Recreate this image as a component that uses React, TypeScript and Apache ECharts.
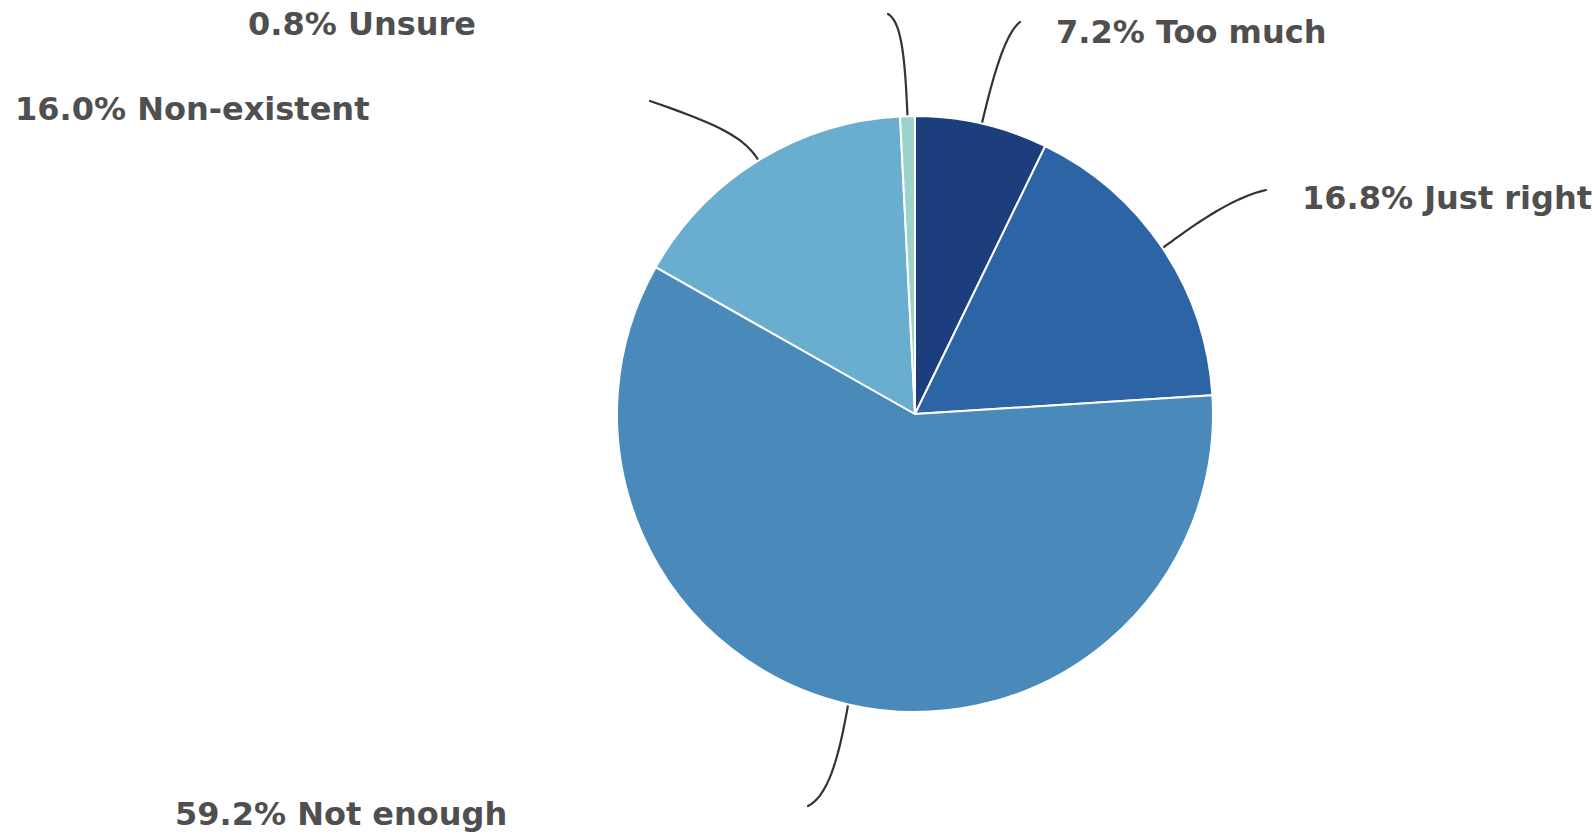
import React, { useEffect, useRef } from "react";
import * as echarts from "echarts";

const categories = ["Too much", "Just right", "Not enough", "Non-existent", "Unsure"];
const values = [7.2, 16.8, 59.2, 16.0, 0.8];
const colors = ["#1c3e7c", "#2d64a6", "#4a8aba", "#6aaecf", "#9cd3cd"];

// label anchor + leader line layout (pixel positions: cubic control points & end of curve)
const labelPos = [
  { x: 1056, y: 32, align: "left", c1: [990, 90], c2: [1003, 35], end: [1020, 22] },
  { x: 1302, y: 198, align: "left", c1: [1190, 228], c2: [1230, 198], end: [1266, 190] },
  { x: 175, y: 814, align: "left", c1: [840, 750], c2: [830, 795], end: [808, 806] },
  { x: 15, y: 109, align: "left", c1: [745, 138], c2: [720, 125], end: [650, 101] },
  { x: 476, y: 24, align: "right", c1: [905, 60], c2: [902, 22], end: [888, 14] },
];

function curve(p0: number[], p1: number[], p2: number[], p3: number[]) {
  const pts: number[][] = [];
  const n = 20;
  for (let i = 0; i <= n; i++) {
    const t = i / n;
    const u = 1 - t;
    const a = u * u * u;
    const b = 3 * u * u * t;
    const c = 3 * u * t * t;
    const d = t * t * t;
    pts.push([
      a * p0[0] + b * p1[0] + c * p2[0] + d * p3[0],
      a * p0[1] + b * p1[1] + c * p2[1] + d * p3[1],
    ]);
  }
  return pts;
}

export default function App() {
  const ref = useRef<HTMLDivElement>(null);
  useEffect(() => {
    if (!ref.current) return;
    const chart = echarts.init(ref.current, null, { renderer: "svg" });
    chart.setOption({
      animation: false,
      backgroundColor: "#ffffff",
      series: [
        {
          type: "pie",
          center: [915, 414],
          radius: 298,
          startAngle: 90,
          clockwise: true,
          data: categories.map((name, i) => ({
            name,
            value: values[i],
            itemStyle: { color: colors[i] },
          })),
          itemStyle: { borderColor: "#ffffff", borderWidth: 2 },
          label: {
            show: true,
            formatter: (p: any) => `${Number(p.value).toFixed(1)}% ${p.name}`,
            fontFamily: "DejaVu Sans",
            fontWeight: "bold",
            fontSize: 32,
            color: "#4f4f4f",
          },
          labelLine: {
            show: true,
            smooth: false,
            lineStyle: { color: "#333333", width: 2.2, cap: "round", join: "round" },
          },
          labelLayout: (params: any) => {
            const lp = labelPos[params.dataIndex];
            const start =
              params.labelLinePoints && params.labelLinePoints[0]
                ? params.labelLinePoints[0]
                : [915, 414];
            return {
              x: lp.x,
              y: lp.y,
              align: lp.align,
              verticalAlign: "middle",
              labelLinePoints: curve(start, lp.c1, lp.c2, lp.end),
            };
          },
        },
      ],
    });
    return () => chart.dispose();
  }, []);
  return (
    <div
      ref={ref}
      style={{ position: "fixed", left: 0, top: 0, width: 1596, height: 835 }}
    />
  );
}
